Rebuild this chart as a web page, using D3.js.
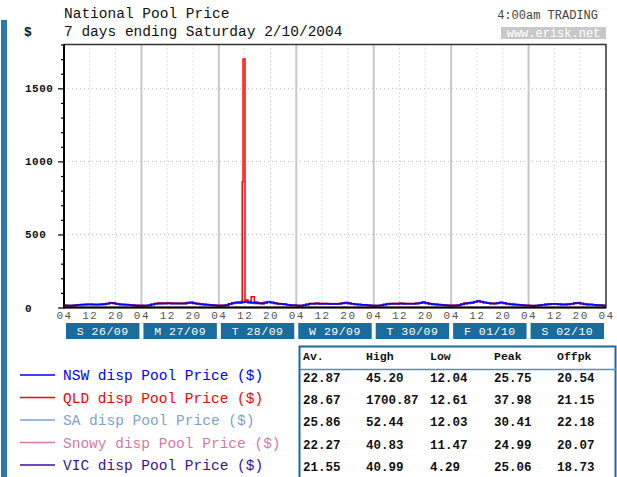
<!DOCTYPE html>
<html>
<head>
<meta charset="utf-8">
<script src="https://cdn.jsdelivr.net/npm/d3@7"></script>
<style>
  body { margin: 0; background: #fff; }
  text { font-family: "Liberation Mono", "DejaVu Sans Mono", monospace; }
</style>
</head>
<body>
<div id="chart"></div>
<script>
'use strict';

/*** Data */
const dayLabels = ["S 26/09", "M 27/09", "T 28/09", "W 29/09", "T 30/09", "F 01/10", "S 02/10"];
const hourLabels = ["04", "12", "20"];
const yTicks = [0, 500, 1000, 1500];
const seriesNames = ["NSW disp Pool Price ($)", "QLD disp Pool Price ($)", "SA disp Pool Price ($)",
                     "Snowy disp Pool Price ($)", "VIC disp Pool Price ($)"];
const seriesColors = ["#0000ff", "#ff0000", "#7ba3d3", "#d878a8", "#3b0fa0"];
const tableHeader = ["Av.", "High", "Low", "Peak", "Offpk"];
const tableRows = [
  ["22.87", "45.20", "12.04", "25.75", "20.54"],
  ["28.67", "1700.87", "12.61", "37.98", "21.15"],
  ["25.86", "52.44", "12.03", "30.41", "22.18"],
  ["22.27", "40.83", "11.47", "24.99", "20.07"],
  ["21.55", "40.99", "4.29", "25.06", "18.73"]
];

/* hourly prices from Sun 26/09 04:00, one row per trading day */
const nsw = [
  14,13,13,15,17,19,20,21,21,20,20,21,22,26,30,29,24,21,20,19,17,15,14,13,
  13,13,15,20,26,27,27,28,29,28,27,27,27,27,30,32,29,26,23,21,19,17,15,14,
  13,14,16,24,30,32,33,36,40,35,33,30,29,28,33,38,34,29,26,24,22,19,16,15,
  14,13,15,21,25,26,27,26,26,25,24,24,24,25,29,32,28,25,22,21,19,17,15,14,
  13,13,15,20,24,25,26,26,27,26,25,25,25,27,31,35,30,26,23,21,19,17,15,14,
  14,14,16,22,28,30,33,38,45,40,35,31,28,27,30,34,30,26,23,21,19,17,15,14,
  13,12,13,15,18,21,23,24,24,22,21,21,22,25,29,31,27,23,21,20,18,16,15,14
];
const qld = [
  15,14,14,16,18,20,21,22,22,21,21,22,24,28,33,31,26,22,21,20,18,16,15,14,
  14,14,16,22,28,30,30,31,32,30,29,29,29,30,34,36,31,27,24,22,20,18,16,15,
  14,15,17,26,33,36,38,34,45,40,74,38,33,32,36,40,35,30,27,25,22,19,17,15,
  14,13,15,22,27,28,29,28,28,27,26,26,26,27,31,34,30,26,23,21,19,17,15,14,
  13,13,16,21,26,27,28,28,29,28,27,27,27,29,33,37,32,27,24,22,20,18,16,15,
  15,15,17,23,29,32,35,39,42,38,34,31,29,28,31,35,31,27,24,22,20,18,16,15,
  14,13,14,16,19,22,24,25,25,23,22,22,23,26,30,33,28,24,22,20,19,17,16,15
];
/* QLD dispatch spike on Tuesday late morning: [hours from start, price] */
const qldSpike = [[55.25, 860], [55.5, 1700.87], [56.1, 52]];
const sa = [
  16,15,15,17,19,21,22,23,23,22,22,23,25,29,34,32,27,24,22,21,19,17,16,15,
  15,14,16,22,28,30,31,32,33,31,30,30,30,31,35,38,33,29,26,23,21,19,17,16,
  15,16,18,26,33,36,40,46,52,44,38,34,32,31,36,41,37,31,28,26,23,20,17,16,
  15,14,16,23,28,29,30,29,29,28,27,27,27,28,32,35,31,27,24,22,20,18,16,15,
  14,14,16,22,27,28,29,29,30,29,28,28,28,30,34,38,33,28,25,23,21,19,17,15,
  15,15,17,24,30,33,37,42,48,43,37,33,30,29,32,36,32,28,25,23,21,19,17,16,
  14,12,14,17,20,23,25,26,26,24,23,23,24,27,31,34,29,25,23,21,19,17,16,15
];
const snowy = [
  13,12,12,14,16,18,19,20,20,19,19,20,21,25,29,28,23,20,19,18,16,14,13,12,
  12,12,14,19,25,26,26,27,28,27,26,26,26,26,29,31,28,25,22,20,18,16,14,13,
  12,13,15,23,29,31,32,35,39,34,32,29,28,27,32,37,33,28,25,23,21,18,15,14,
  13,12,14,20,24,25,26,25,25,24,23,23,23,24,28,31,27,24,21,20,18,16,14,13,
  12,12,14,19,23,24,25,25,26,25,24,24,24,26,30,34,29,25,22,20,18,16,14,13,
  13,13,15,21,27,29,32,37,41,38,33,30,27,26,29,33,29,25,22,20,18,16,14,13,
  12,11,12,14,17,20,22,23,23,21,20,20,21,24,28,30,26,22,20,19,17,15,14,13
];
const vic = [
  12,11,10,13,16,18,19,20,20,19,19,20,21,25,29,28,23,20,19,18,16,13,9,6,
  5,8,13,19,25,26,26,27,27,26,25,25,25,26,29,31,27,24,21,19,17,15,13,12,
  11,12,14,22,28,30,31,34,38,33,31,28,27,26,31,36,32,27,24,22,20,17,14,13,
  12,11,13,19,23,24,25,24,24,23,22,22,22,24,28,31,27,23,20,19,17,15,13,12,
  11,11,13,18,22,23,24,24,25,24,23,23,23,25,29,33,28,24,21,19,17,15,13,12,
  12,12,14,20,26,28,31,36,41,37,32,29,26,25,28,32,28,24,21,19,17,15,13,12,
  11,10,11,13,16,19,21,22,22,20,19,19,20,23,27,29,25,21,19,18,16,14,13,12
];

/*** Layout */
const w = 617, h = 477;
const plot = { left: 64, right: 606, top: 44.5, bottom: 307.5 };
const boxBlue = "#1a6c9c";

const svg = d3.select("#chart").append("svg")
  .attr("width", w).attr("height", h);

const x = d3.scaleLinear().domain([0, 168]).range([plot.left, plot.right]);
const y = d3.scaleLinear().domain([0, 1800]).range([plot.bottom, plot.top]);

/* left page strip */
svg.append("rect").attr("x", 1).attr("y", 20).attr("width", 6).attr("height", h - 20).attr("fill", "#2a7ab0");

/** Titles */
svg.append("text").attr("x", 64).attr("y", 18).attr("font-size", 14.5).attr("fill", "#111")
  .text("National Pool Price");
svg.append("text").attr("x", 64).attr("y", 36).attr("font-size", 14.5).attr("fill", "#111")
  .text("7 days ending Saturday 2/10/2004");
svg.append("text").attr("x", 24).attr("y", 36).attr("font-size", 13).attr("font-weight", "bold").attr("fill", "#111")
  .text("$");
svg.append("text").attr("x", 598).attr("y", 19).attr("font-size", 12).attr("text-anchor", "end").attr("fill", "#444")
  .text("4:00am TRADING");
svg.append("rect").attr("x", 501).attr("y", 27).attr("width", 105).attr("height", 12).attr("fill", "#c8c8c8");
svg.append("text").attr("x", 553.5).attr("y", 37).attr("font-size", 12).attr("text-anchor", "middle").attr("fill", "#fff")
  .text("www.erisk.net");

/** Grid */
const grid = svg.append("g");
grid.selectAll(".hgrid").data(yTicks.filter(d => d > 0)).enter().append("line")
  .attr("x1", plot.left).attr("x2", plot.right)
  .attr("y1", d => y(d)).attr("y2", d => y(d))
  .attr("stroke", "#bbb").attr("stroke-dasharray", "1,3");
grid.selectAll(".vgrid").data(d3.range(8, 168, 8)).enter().append("line")
  .attr("x1", d => x(d)).attr("x2", d => x(d))
  .attr("y1", plot.top).attr("y2", plot.bottom)
  .attr("stroke", d => d % 24 === 0 ? "#c8c8c8" : "#bbb")
  .attr("stroke-width", d => d % 24 === 0 ? 2 : 1)
  .attr("stroke-dasharray", d => d % 24 === 0 ? null : "1,3");

/** Series */
const toPoints = arr => arr.map((v, i) => [i, v]);
const qldPoints = toPoints(qld).filter(p => !(p[0] > 55 && p[0] < 56.1)).concat(qldSpike)
  .sort((a, b) => a[0] - b[0]);
const seriesData = [toPoints(nsw), qldPoints, toPoints(sa), toPoints(snowy), toPoints(vic)];

// draw VIC first so the NSW line ends up on top, like the original
const drawOrder = [4, 3, 2, 1, 0];
const line = d3.line().x(d => x(d[0])).y(d => y(d[1])).curve(d3.curveStepAfter);
svg.append("g").selectAll("path").data(drawOrder).enter().append("path")
  .attr("d", k => line(seriesData[k].concat([[168, seriesData[k][seriesData[k].length - 1][1]]])))
  .attr("fill", "none")
  .attr("stroke", k => seriesColors[k])
  .attr("stroke-width", 1.5);

/** Frame */
svg.append("rect").attr("x", plot.left).attr("y", plot.top)
  .attr("width", plot.right - plot.left).attr("height", plot.bottom - plot.top)
  .attr("fill", "none").attr("stroke", "#333").attr("stroke-width", 1.5);
svg.append("line").attr("x1", plot.left).attr("x2", plot.left).attr("y1", plot.top).attr("y2", plot.bottom + 1)
  .attr("stroke", "#000").attr("stroke-width", 2);
svg.append("line").attr("x1", plot.left).attr("x2", plot.right).attr("y1", plot.bottom).attr("y2", plot.bottom)
  .attr("stroke", "#000").attr("stroke-width", 2);

/** Y axis */
const yAxis = d3.axisLeft(y)
  .tickValues(d3.range(0, 1801, 100))
  .tickSizeOuter(0)
  .tickFormat(d => yTicks.includes(d) ? d : "");
const yG = svg.append("g").attr("transform", "translate(" + plot.left + ",0)").call(yAxis);
yG.select(".domain").remove();
yG.selectAll(".tick line").attr("x2", d => yTicks.includes(d) ? -6 : -3).attr("stroke", "#000").attr("stroke-width", 1.2);
yG.selectAll(".tick text").attr("x", 25 - plot.left).attr("text-anchor", "start")
  .attr("font-family", "'Liberation Mono', monospace").attr("font-size", 11).attr("font-weight", "bold")
  .attr("letter-spacing", 0.5).attr("fill", "#111");

/** X axis */
const xAxis = d3.axisBottom(x)
  .tickValues(d3.range(0, 169, 8))
  .tickSize(0)
  .tickFormat((d, i) => hourLabels[i % 3]);
const xG = svg.append("g").attr("transform", "translate(0," + plot.bottom + ")").call(xAxis);
xG.select(".domain").remove();
xG.selectAll(".tick text").attr("y", 4).attr("dy", "0.71em")
  .attr("font-family", "'Liberation Mono', monospace").attr("font-size", 11)
  .attr("letter-spacing", 1.5).attr("fill", "#555");

/** Day boxes */
const days = svg.append("g").selectAll("g").data(dayLabels).enter().append("g");
days.append("rect")
  .attr("x", (d, i) => x(i * 24) + 2)
  .attr("y", 323)
  .attr("width", (d, i) => x((i + 1) * 24) - x(i * 24) - 4)
  .attr("height", 16)
  .attr("fill", boxBlue);
days.append("text")
  .attr("x", (d, i) => x(i * 24 + 12))
  .attr("y", 335)
  .attr("text-anchor", "middle")
  .attr("font-size", 11.5).attr("letter-spacing", 0.5).attr("fill", "#fff")
  .text(d => d);

/** Legend */
const legend = svg.append("g").selectAll("g").data(seriesNames).enter().append("g")
  .attr("transform", (d, i) => "translate(0," + (375 + i * 22.5) + ")");
legend.append("line").attr("x1", 20).attr("x2", 55)
  .attr("stroke", (d, i) => seriesColors[i]).attr("stroke-width", 1.5);
legend.append("text").attr("x", 63).attr("y", 5).attr("font-size", 14.5)
  .attr("fill", (d, i) => seriesColors[i])
  .text(d => d);

/** Stats table */
const colX = [303, 366, 430, 494, 557];
svg.append("rect").attr("x", 299.5).attr("y", 346.5).attr("width", 316).attr("height", 135)
  .attr("fill", "#fff").attr("stroke", boxBlue).attr("stroke-width", 2);
svg.append("line").attr("x1", 300).attr("x2", 616).attr("y1", 369.5).attr("y2", 369.5)
  .attr("stroke", "#5a8fb5").attr("stroke-width", 1.5);
svg.append("g").selectAll("text").data(tableHeader).enter().append("text")
  .attr("x", (d, i) => colX[i]).attr("y", 360)
  .attr("font-size", 11.5).attr("font-weight", "bold").attr("fill", "#111")
  .text(d => d);
svg.append("g").selectAll("g").data(tableRows).enter().append("g")
  .attr("transform", (d, i) => "translate(0," + (382 + i * 22.2) + ")")
  .selectAll("text").data(d => d).enter().append("text")
  .attr("x", (d, i) => colX[i])
  .attr("font-size", 12.5).attr("font-weight", "bold").attr("fill", "#111")
  .text(d => d);
</script>
</body>
</html>
